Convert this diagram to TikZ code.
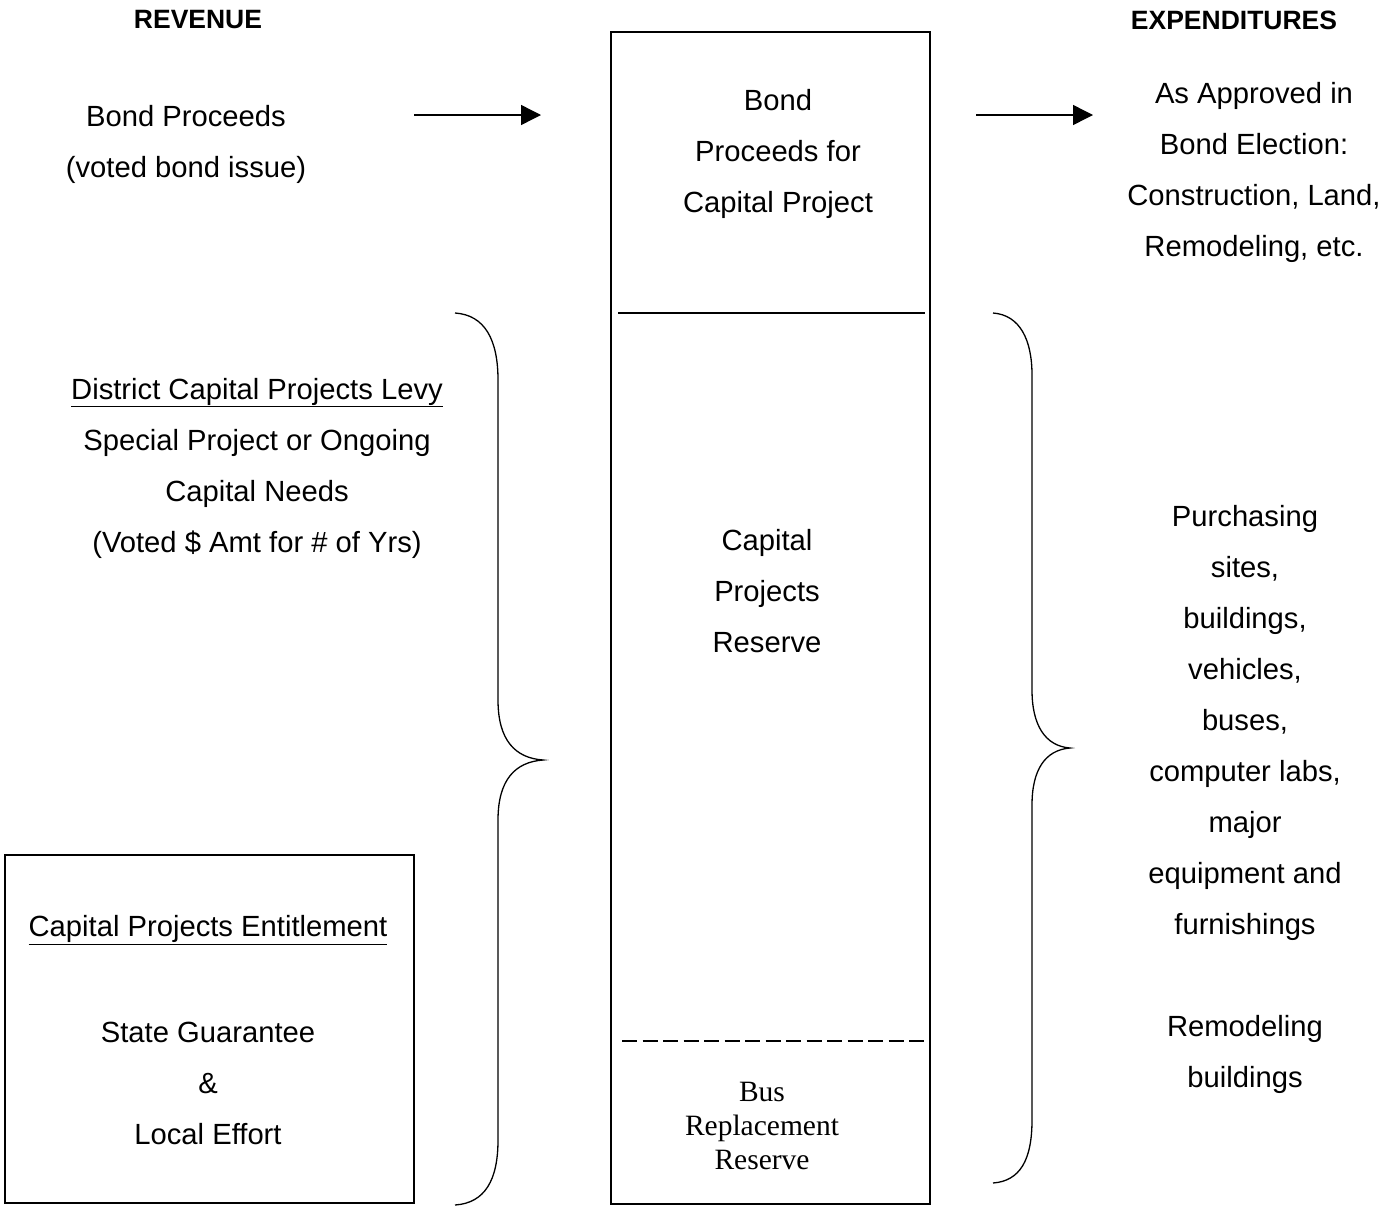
\documentclass[tikz,border=0pt]{standalone}
\usepackage{fontspec}
\setmainfont{Liberation Sans}
\newfontfamily\timesfont{Liberation Serif}
\usepackage{tikz}
\usetikzlibrary{arrows.meta}

\begin{document}
\begin{tikzpicture}
[x=1pt, y=-1pt,
head/.style ={inner sep=0pt, font=\bfseries\fontsize{26.5}{30}\selectfont},
txt/.style ={inner sep=0pt, align=center, font=\fontsize{29.2}{51}\selectfont},
bustxt/.style ={inner sep=0pt, align=center, font=\timesfont\fontsize{29.5}{34}\selectfont},
fund/.style ={rectangle, draw=black, line width=1.3pt, minimum width=319pt, minimum height=1172pt, inner sep=0pt},
entbox/.style ={rectangle, draw=black, line width=1.3pt, minimum width=409pt, minimum height=348pt, inner sep=0pt},
line/.style ={draw, line width=1.4pt, -{Triangle[length=20pt,width=20pt]}},
brace/.style ={draw, line width=1.3pt}]
\useasboundingbox (0, 0) rectangle (1380, 1205);
\draw (198, 20) node[head] (revenue) {REVENUE};
\draw (1234, 20) node[head] (expend) {EXPENDITURES};
\draw (186, 144.5) node[txt] (bondsrc) {Bond Proceeds\\(voted bond issue)};
\draw (257, 468) node[txt] (levy) {\underline{District Capital Projects Levy}\\Special Project or Ongoing\\Capital Needs\\ (Voted \$ Amt for \# of Yrs)};
\draw (209.5, 1029) node[entbox] (entbox) {};
\draw (208, 930) node[txt] (enttitle) {\underline{Capital Projects Entitlement}};
\draw (208, 1083) node[txt] (entsrc) {State Guarantee\\\&\\Local Effort};
\draw (770.5, 618) node[fund] (fund) {};
\draw (778, 154) node[txt] (bondfund) {Bond\\Proceeds for\\Capital Project};
\draw (767, 591) node[txt] (reserve) {Capital\\Projects\\Reserve};
\draw (762, 1126) node[bustxt] (bus) {Bus\\Replacement\\Reserve};
\draw (1254, 172) node[txt] (approved) {As Approved in\\Bond Election:\\Construction, Land,\\Remodeling, etc.};
\draw (1245, 799) node[txt] (purchase) {Purchasing\\sites,\\buildings,\\vehicles,\\buses,\\computer labs,\\major\\equipment and\\furnishings\\[51pt]Remodeling\\buildings};
\coordinate (in1) at (414, 115);
\coordinate (in2) at (541, 115);
\coordinate (out1) at (976, 115);
\coordinate (out2) at (1093, 115);
\draw[line] (in1) -- (in2);
\draw[line] (out1) -- (out2);
\draw[line width=1.3pt] (618, 313) -- (925, 313);
\draw[line width=1.3pt, dash pattern=on 15pt off 5.5pt] (622, 1041) -- (925, 1041);
\draw[brace] (455, 313) .. controls (485, 315) and (498, 340) .. (498, 380) -- (498, 700) .. controls (498, 740) and (515, 758) .. (543, 760) .. controls (515, 762) and (498, 780) .. (498, 820) -- (498, 1140) .. controls (498, 1180) and (485, 1203) .. (455, 1205);
\draw[brace] (993, 313) .. controls (1020, 315) and (1032, 340) .. (1032, 375) -- (1032, 690) .. controls (1032, 725) and (1045, 746) .. (1070, 748) .. controls (1045, 750) and (1032, 770) .. (1032, 805) -- (1032, 1120) .. controls (1032, 1160) and (1020, 1181) .. (993, 1183);
\end{tikzpicture}
\end{document}
